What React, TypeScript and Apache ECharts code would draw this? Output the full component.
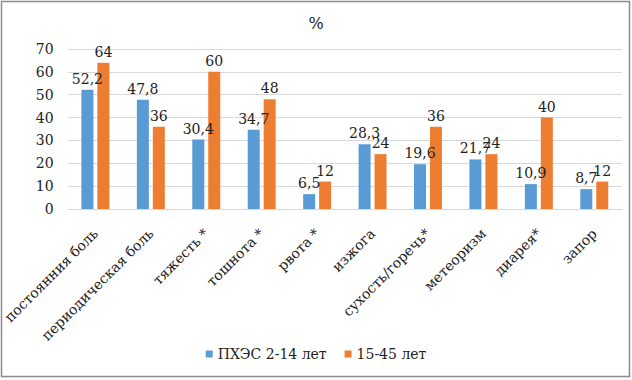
import React, { useEffect, useRef } from "react";
import * as echarts from "echarts";

const categories = [
  "постоянния боль",
  "периодическая боль",
  "тяжесть *",
  "тошнота *",
  "рвота *",
  "изжога",
  "сухость/горечь*",
  "метеоризм",
  "диарея*",
  "запор",
];
const seriesNames = ["ПХЭС 2-14 лет", "15-45 лет"];
const childValues = [52.2, 47.8, 30.4, 34.7, 6.5, 28.3, 19.6, 21.7, 10.9, 8.7];
const adultValues = [64, 36, 60, 48, 12, 24, 36, 24, 40, 12];
const yTicks = [0, 10, 20, 30, 40, 50, 60, 70];

const FONT = "DejaVu Serif";

export default function App() {
  const ref = useRef<HTMLDivElement>(null);
  useEffect(() => {
    document.body.style.margin = "0";
    const chart = echarts.init(ref.current!, null, { renderer: "svg" });
    const fmt = (p: any) => String(p.value).replace(".", ",");
    const labelStyle = {
      show: true,
      position: "top",
      distance: 4,
      formatter: fmt,
      fontFamily: FONT,
      fontSize: 14,
      color: "#222",
    };
    chart.setOption({
      animation: false,
      backgroundColor: "#ffffff",
      textStyle: { fontFamily: FONT },
      title: {
        text: "%",
        left: "center",
        top: 10,
        textStyle: { fontFamily: FONT, fontSize: 16, fontWeight: "normal", color: "#222" },
      },
      graphic: [
        {
          type: "rect",
          shape: { x: 1.5, y: 1.5, width: 628, height: 375 },
          style: { fill: "none", stroke: "#8c8c8c", lineWidth: 1.5 },
        },
      ],
      legend: {
        bottom: 14,
        left: "center",
        itemWidth: 7,
        itemHeight: 7,
        itemGap: 18,
        icon: "rect",
        textStyle: { fontFamily: FONT, fontSize: 14, color: "#222" },
        data: seriesNames,
      },
      grid: { left: 63, right: 10, top: 49, bottom: 171, containLabel: false },
      xAxis: {
        type: "category",
        data: categories,
        axisLine: { show: true, lineStyle: { color: "#d9d9d9" } },
        axisTick: { show: false },
        axisLabel: {
          rotate: 45,
          interval: 0,
          margin: 22,
          fontFamily: FONT,
          fontSize: 14,
          color: "#222",
        },
      },
      yAxis: {
        type: "value",
        min: 0,
        max: 70,
        interval: 10,
        axisLine: { show: false },
        axisTick: { show: false },
        splitLine: { lineStyle: { color: "#d9d9d9" } },
        axisLabel: {
          fontFamily: FONT,
          fontSize: 14,
          color: "#222",
          margin: 14,
          formatter: (v: number) => (yTicks.includes(v) ? String(v) : ""),
        },
      },
      series: [
        {
          name: seriesNames[0],
          type: "bar",
          data: childValues,
          barWidth: 12,
          barGap: "33%",
          itemStyle: { color: "#5B9BD5" },
          label: labelStyle,
        },
        {
          name: seriesNames[1],
          type: "bar",
          data: adultValues,
          barWidth: 12,
          itemStyle: { color: "#ED7D31" },
          label: labelStyle,
        },
      ],
    });
    return () => chart.dispose();
  }, []);
  return (
    <div
      ref={ref}
      style={{ position: "absolute", left: 0, top: 0, width: 632, height: 380 }}
    />
  );
}
